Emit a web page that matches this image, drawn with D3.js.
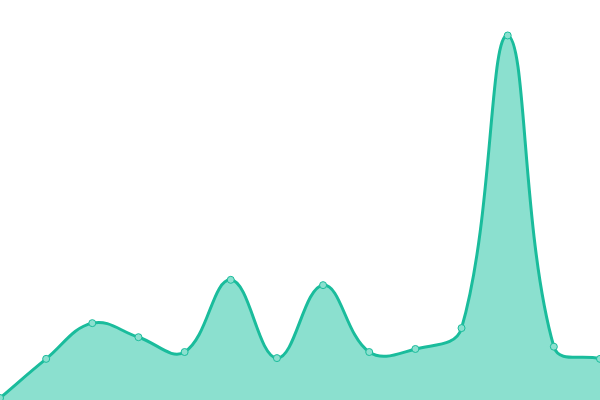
<html>
<head>
<script src="https://d3js.org/d3.v7.min.js"></script>
<style>
  body { margin: 0; background: #fff; }
</style>
</head>
<body>
<svg id="chart" width="600" height="400"></svg>
<script>
// Data
var labels = [0, 1, 2, 3, 4, 5, 6, 7, 8, 9, 10, 11, 12, 13];
var values = [0, 10.3, 19.7, 16.0, 12.1, 31.1, 10.5, 29.7, 12.1, 12.9, 18.4, 95.4, 13.5, 10.3];

var w = 600, h = 400;
var svg = d3.select('#chart');

var x = d3.scaleLinear()
	.domain([0, labels.length - 1])
	.range([0, w]);

var y = d3.scaleLinear()
	.domain([0, 100])
	.range([398, 18]);

var lineColor = '#1abc9c';
var fillColor = '#8be0cf';
var tension = 0.4;

// spline with distance weighted control points
function splinePath(pts, p) {
	p.moveTo(pts[0][0], pts[0][1]);
	var ctrl = pts.map(function(c, i) {
		var prev = pts[Math.max(i - 1, 0)], next = pts[Math.min(i + 1, pts.length - 1)];
		var d01 = Math.hypot(c[0] - prev[0], c[1] - prev[1]);
		var d12 = Math.hypot(next[0] - c[0], next[1] - c[1]);
		var s01 = d01 / (d01 + d12 || 1), s12 = d12 / (d01 + d12 || 1);
		var fa = tension * s01, fb = tension * s12;
		var cp1 = [c[0] - fa * (next[0] - prev[0]), c[1] - fa * (next[1] - prev[1])];
		var cp2 = [c[0] + fb * (next[0] - prev[0]), c[1] + fb * (next[1] - prev[1])];
		cp1[1] = Math.min(Math.max(cp1[1], 0), h); cp2[1] = Math.min(Math.max(cp2[1], 0), h);
		return [cp1, cp2];
	});
	for (var i = 1; i < pts.length; i++) {
		p.bezierCurveTo(ctrl[i - 1][1][0], ctrl[i - 1][1][1], ctrl[i][0][0], ctrl[i][0][1], pts[i][0], pts[i][1]);
	}
	return p;
}

var pts = values.map(function(d, i) { return [x(labels[i]), y(d)]; });

// Filled area
var ap = splinePath(pts, d3.path());
ap.lineTo(x(labels[labels.length - 1]), h);
ap.lineTo(x(labels[0]), h);
ap.closePath();
svg.append('path')
	.attr('d', ap.toString())
	.style('fill', fillColor);

// Line
svg.append('path')
	.attr('d', splinePath(pts, d3.path()).toString())
	.style('fill', 'none')
	.style('stroke', lineColor)
	.style('stroke-width', 3);

// Points
svg.selectAll('circle.pt')
	.data(values)
	.enter().append('circle')
		.attr('class', 'pt')
		.attr('cx', function(d, i) { return x(labels[i]); })
		.attr('cy', function(d) { return y(d); })
		.attr('r', 3.5)
		.style('fill', '#8be0cf')
		.style('stroke', lineColor)
		.style('stroke-width', 1);
</script>
</body>
</html>
